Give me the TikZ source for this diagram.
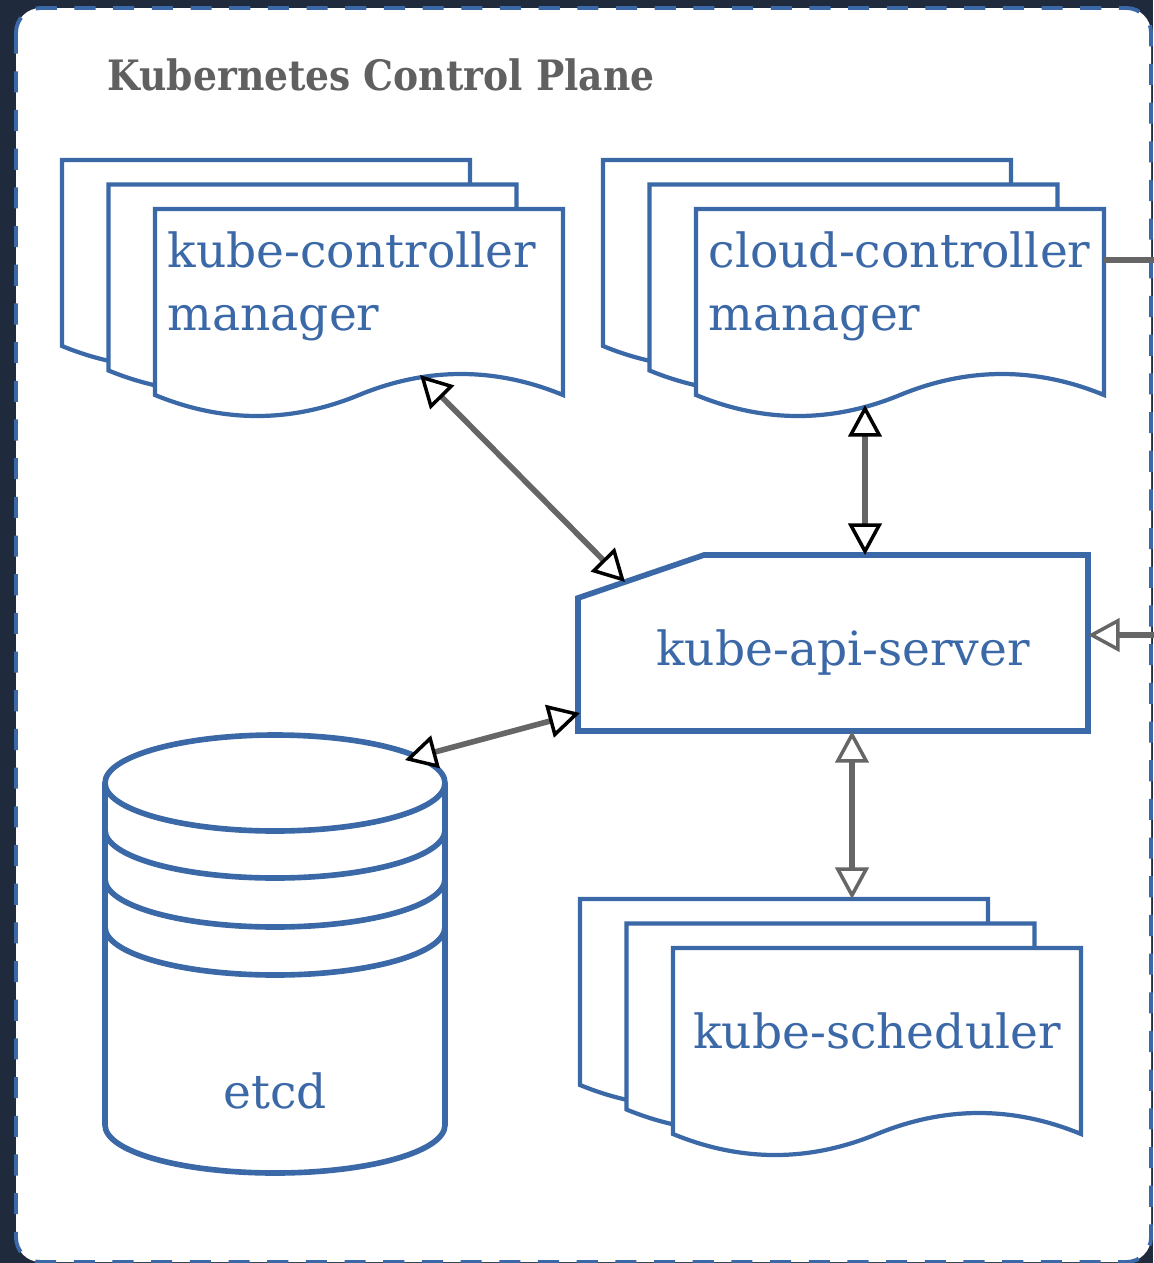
\documentclass[tikz,border=0pt]{standalone}
\usepackage{fontspec}
\setmainfont{DejaVu Serif}
\newfontfamily\titlefont{DejaVu Serif Condensed}
\usetikzlibrary{arrows.meta}

\definecolor{k8sblue}{RGB}{59,104,167}
\definecolor{linkgray}{RGB}{102,102,102}
\definecolor{titlegray}{RGB}{96,96,96}
\definecolor{navy}{RGB}{31,42,60}

\tikzset{
  blk/.tip={Triangle[length=9pt,width=9.5pt,line width=1pt,color=black,fill=white]},
  gry/.tip={Triangle[length=9pt,width=9.5pt,line width=1pt,color=linkgray,fill=white]},
}

% three stacked sheets with a wavy bottom, #1,#2 = top left of the back one
\newcommand{\docstack}[2]{%
  \foreach \k in {0,1,2}{
    \begin{scope}[shift={({#1+46.5*\k},{#2+24.5*\k})}]
      \draw[sheet] (0,0) -- (408,0) -- (408,186)
        .. controls (340,158) and (272,158) .. (204,186)
        .. controls (136,214) and (68,214) .. (0,186) -- cycle;
    \end{scope}
  }}

\begin{document}
\begin{tikzpicture}[
  x=0.01cm, y=-0.01cm,
  sheet/.style={draw=k8sblue, fill=white, line width=1.2pt},
  apibox/.style={draw=k8sblue, fill=white, line width=1.6pt},
  db/.style={draw=k8sblue, fill=white, line width=1.6pt},
  panel/.style={draw=k8sblue, fill=white, line width=1.1pt,
    dash pattern=on 6pt off 5pt, rounded corners=7pt},
  lbl/.style={text=k8sblue, font=\fontsize{13.4}{18}\selectfont, inner sep=0pt},
  title/.style={text=titlegray, font=\titlefont\fontsize{11.9}{14}\selectfont\bfseries, inner sep=0pt},
  link/.style={draw=linkgray, line width=1.6pt},
]
\useasboundingbox (0,0) rectangle (1153,1263);
\fill[navy] (0,0) rectangle (1153,1263);
\draw[panel] (16,8) rectangle (1151,1262);

\node[title, anchor=base west] (title) at (107,90) {Kubernetes Control Plane};

% controllers and scheduler
\docstack{62}{160}
\docstack{603}{160}
\docstack{580}{899}

% api server
\draw[apibox] (578,598) -- (704,555) -- (1088,555) -- (1088,731) -- (578,731) -- cycle;

% etcd
\draw[db] (105,783) -- (105,1125)
  .. controls (105,1151.5) and (181.1,1173) .. (275,1173)
  .. controls (368.9,1173) and (445,1151.5) .. (445,1125) -- (445,783);
\draw[db] (275,783) ellipse [x radius=170, y radius=48];
\foreach \c in {830,879,927}
  \draw[db, fill=none] (105,\c)
    .. controls (105,\c+26.5) and (181.1,\c+48) .. (275,\c+48)
    .. controls (368.9,\c+48) and (445,\c+26.5) .. (445,\c);

% labels
\node[lbl, anchor=north west, align=left] (kcm) at (167,231) {kube-controller\\manager};
\node[lbl, anchor=north west, align=left] (ccm) at (708,231) {cloud-controller\\manager};
\node[lbl, anchor=base] (sched) at (877,1048) {kube-scheduler};
\node[lbl, anchor=base] (api) at (843,665) {kube-api-server};
\node[lbl, anchor=base] (etcd) at (275,1108) {etcd};

% ports on the shapes
\coordinate (kcm-port) at (420,375);
\coordinate (ccm-port) at (865,405);
\coordinate (ccm-out) at (1104,260);
\coordinate (sched-port) at (852,899);
\coordinate (etcd-port) at (405,760);
\coordinate (api-nw) at (625,582);
\coordinate (api-n) at (865,555);
\coordinate (api-w) at (580,713);
\coordinate (api-s) at (852,731);
\coordinate (api-e) at (1088,635);
\coordinate (edge-top) at (1160,260);
\coordinate (edge-mid) at (1160,635);

\draw[link, blk-blk] (kcm-port) -- (api-nw);
\draw[link, blk-blk] (ccm-port) -- (api-n);
\draw[link, blk-blk] (etcd-port) -- (api-w);
\draw[link, gry-gry] (api-s) -- (sched-port);
\draw[link, -gry] (edge-mid) -- (api-e);
\draw[link] (ccm-out) -- (edge-top);
\end{tikzpicture}
\end{document}
